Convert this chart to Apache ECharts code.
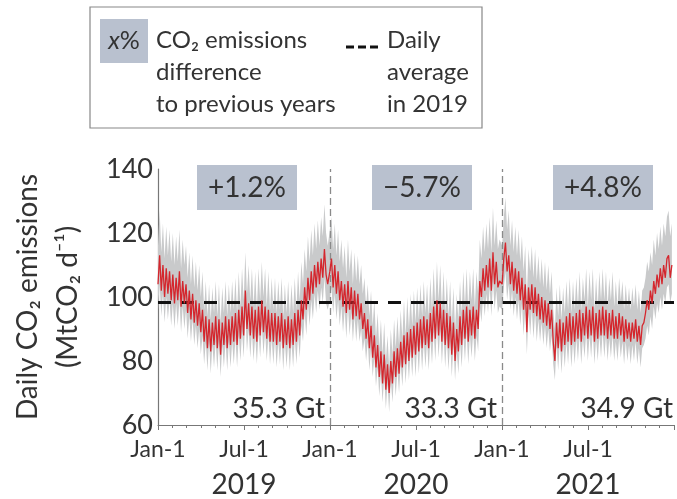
<!DOCTYPE html>
<html>
<head>
<meta charset="utf-8">
<script src="https://cdn.jsdelivr.net/npm/echarts@6/dist/echarts.min.js"></script>
<style>
  html, body { margin: 0; padding: 0; background: #fff; }
  #chart { width: 677px; height: 499px; }
</style>
</head>
<body>
<div id="chart"></div>
<script>
// Day offsets (from 2019-01-01) of each year's Jan-1, and sampling step in days
const yearStarts = [0, 365, 731];
const sampleStep = 3.5;

const tickLabels = ['Jan-1', 'Jul-1'];
const yearLabels = ['2019', '2020', '2021'];
const yearTotals = ['35.3 Gt', '33.3 Gt', '34.9 Gt'];
const yearChanges = ['+1.2%', '\u22125.7%', '+4.8%'];
const dailyAverage2019 = 98.5;

// Daily CO2 emissions (MtCO2 per day), sampled twice a week
const emissions2019 = [
  104,113,102,110,100,109,101,108,99,
  107,98,106,99,108,97,105,98,
  104,95,102,93,101,92,99,91,98,
  89,96,86,94,84,93,83,92,85,
  94,84,93,82,92,85,94,84,93,
  85,94,86,95,85,96,87,97,
  88,102,90,98,88,97,87,96,86,
  97,88,99,89,97,87,96,86,95,
  86,95,85,94,86,95,84,93,
  85,94,84,93,85,95,86,96,88,
  99,93,103,96,106,99,108,101,
  110,103,111,104,112,106,115,107,104
];
const emissions2020 = [
  108,112,103,110,101,108,99,105,97,
  104,95,105,96,103,93,102,94,
  101,93,98,90,95,87,93,84,91,
  81,88,78,85,75,83,73,82,71,
  79,70,80,73,83,75,84,76,86,
  78,88,79,89,80,90,81,91,
  82,92,83,93,84,94,85,93,84,
  95,86,97,87,99,88,98,86,96,
  85,95,84,94,82,92,80,90,
  83,94,85,96,87,97,86,96,88,
  97,87,96,90,105,100,109,102,
  110,103,112,102,114,104,111,103,105
];
const emissions2021 = [
  104,112,117,108,113,104,111,102,109,
  101,108,99,106,96,104,89,103,
  96,104,95,103,94,101,93,100,92,
  99,91,98,90,96,86,80,92,84,
  93,83,92,85,94,86,95,85,94,
  86,95,87,96,86,95,88,97,
  87,96,88,97,86,95,87,96,88,
  97,88,96,87,95,88,96,87,94,
  87,95,88,94,86,93,87,92,
  86,92,87,93,86,91,85,91,92,
  95,99,96,102,98,105,101,107,
  103,109,104,110,106,112,113,106,110
];

// Upper bound of the uncertainty range
const upper2019 = [
  116,127,114,123,112,122,113,121,111,
  120,110,119,111,121,109,118,110,
  116,106,114,104,113,103,111,102,110,
  100,108,96,105,94,104,93,103,95,
  105,94,104,92,103,95,105,94,104,
  95,105,96,106,95,108,97,109,
  99,114,101,110,99,109,97,108,96,
  109,99,111,100,109,97,108,96,106,
  96,106,95,105,96,106,94,104,
  95,105,94,104,95,106,96,108,99,
  111,104,115,108,119,111,121,113,
  123,115,124,116,125,119,129,120,116
];
const upper2020 = [
  121,125,115,123,113,121,111,118,109,
  116,106,118,108,115,104,114,105,
  113,104,110,101,106,97,104,94,102,
  91,99,87,95,84,93,82,92,80,
  88,78,90,82,93,84,94,85,96,
  87,99,88,100,90,101,91,102,
  92,103,93,104,94,105,95,104,94,
  106,96,109,97,111,99,110,96,108,
  95,106,94,105,92,103,90,101,
  93,105,95,108,97,109,96,108,99,
  109,97,108,101,118,112,122,114,
  123,115,125,114,128,116,124,115,118
];
const upper2021 = [
  116,125,131,121,127,116,124,114,122,
  113,121,111,119,108,116,100,115,
  108,116,106,115,105,113,104,112,103,
  111,102,110,101,108,96,90,103,94,
  104,93,103,95,105,96,106,95,105,
  96,106,97,108,96,106,99,109,
  97,108,99,109,96,106,97,108,99,
  109,99,108,97,106,99,108,97,105,
  97,106,99,105,96,104,97,103,
  96,103,97,104,96,102,95,102,103,
  106,111,108,114,110,118,113,120,
  115,122,116,123,119,125,127,119,123
];

// Lower bound of the uncertainty range
const lower2019 = [
  96,104,94,101,92,100,93,99,91,
  98,90,98,91,99,89,97,90,
  96,87,94,86,93,85,91,84,90,
  82,88,79,86,77,86,76,85,78,
  86,77,86,75,85,78,86,77,86,
  78,86,79,87,78,88,80,89,
  81,94,83,90,81,89,80,88,79,
  89,81,91,82,89,80,88,79,87,
  79,87,78,86,79,87,77,86,
  78,86,77,86,78,87,79,88,81,
  91,86,95,88,98,91,99,93,
  101,95,102,96,103,98,106,98,96
];
const lower2020 = [
  99,103,95,101,93,99,91,97,89,
  96,87,97,88,95,86,94,86,
  93,86,90,83,87,80,86,77,84,
  75,81,72,78,69,76,67,75,65,
  73,64,74,67,76,69,77,70,79,
  72,81,73,82,74,83,75,84,
  75,85,76,86,77,86,78,86,77,
  87,79,89,80,91,81,90,79,88,
  78,87,77,86,75,85,74,83,
  76,86,78,88,80,89,79,88,81,
  89,80,88,83,97,92,100,94,
  101,95,103,94,105,96,102,95,97
];
const lower2021 = [
  96,103,108,99,104,96,102,94,100,
  93,99,91,98,88,96,82,95,
  88,96,87,95,86,93,86,92,85,
  91,84,90,83,88,79,74,85,77,
  86,76,85,78,86,79,87,78,86,
  79,87,80,88,79,87,81,89,
  80,88,81,89,79,87,80,88,81,
  89,81,88,80,87,81,88,80,86,
  80,87,81,86,79,86,80,85,
  79,85,80,86,79,84,78,84,85,
  87,91,88,94,90,97,93,98,
  95,100,96,101,98,103,104,98,101
];

const FONT = 'Lato';
const TEXT = '#333';

const emis = [emissions2019, emissions2020, emissions2021];
const ups = [upper2019, upper2020, upper2021];
const lows = [lower2019, lower2020, lower2021];

// [day, emission, lower, upper] rows for the whole period
const rows = [];
yearStarts.forEach((s, y) => {
  emis[y].forEach((v, k) => rows.push([s + k * sampleStep, v, lows[y][k], ups[y][k]]));
});

const X_MAX = 1096;
const X_STEP = X_MAX / 6;

const chart = echarts.init(document.getElementById('chart'), null, { renderer: 'canvas' });

// Uncertainty band drawn as one polygon through the axis scales
function renderBand(params, api) {
  if (params.dataIndex !== 0) return null;
  const top = rows.map(r => api.coord([r[0], r[3]]));
  const bottom = rows.map(r => api.coord([r[0], r[2]])).reverse();
  return {
    type: 'polygon',
    shape: { points: top.concat(bottom) },
    style: { fill: '#c9cacb' },
    silent: true
  };
}

chart.setOption({
  animation: false,
  backgroundColor: '#fff',
  textStyle: { fontFamily: FONT },
  grid: { left: 158, right: 0, top: 169, bottom: 72 },
  dataset: { source: rows },
  xAxis: [{
    type: 'value', min: 0, max: X_MAX, interval: X_STEP, position: 'bottom',
    axisLine: { show: true, lineStyle: { color: '#777', width: 1.2 } },
    axisTick: { show: true, length: 5, lineStyle: { color: '#777' } },
    minorTick: { show: true, splitNumber: 6, length: 3, lineStyle: { color: '#777' } },
    splitLine: { show: false },
    axisLabel: {
      margin: 13, fontSize: 23, color: TEXT, fontFamily: FONT,
      formatter: (v, i) => (v > X_MAX - 10 ? '' : tickLabels[i % 2])
    }
  }, {
    type: 'value', min: 0, max: X_MAX, interval: X_STEP, position: 'bottom', offset: 0,
    axisLine: { show: false }, axisTick: { show: false }, splitLine: { show: false },
    axisLabel: {
      margin: 46, fontSize: 28, color: TEXT, fontFamily: FONT,
      formatter: (v, i) => (i % 2 === 1 ? yearLabels[(i - 1) / 2] : '')
    }
  }],
  yAxis: {
    type: 'value', min: 60, max: 140, interval: 20,
    axisLine: { show: true, lineStyle: { color: '#777', width: 1.2 } },
    axisTick: { show: false },
    splitLine: { show: false },
    axisLabel: { margin: 5, fontSize: 27, color: TEXT, fontFamily: FONT },
    name: 'Daily CO\u2082 emissions\n(MtCO\u2082 d\u207B\u00B9)',
    nameLocation: 'middle', nameRotate: 90, nameGap: 70,
    nameTextStyle: { fontSize: 28, lineHeight: 40, color: TEXT, fontFamily: FONT, align: 'center' }
  },
  series: [{
    name: 'range', type: 'custom', renderItem: renderBand,
    encode: { x: 0, y: [2, 3] }, clip: true, silent: true, z: 1
  }, {
    name: 'emissions', type: 'line',
    encode: { x: 0, y: 1 },
    showSymbol: false, symbol: 'none',
    lineStyle: { color: '#d4262d', width: 1.3 },
    markLine: {
      silent: true, symbol: 'none', label: { show: false },
      data: [
        { xAxis: yearStarts[1], lineStyle: { color: '#8a8a8a', width: 1.3, type: [7, 4] } },
        { xAxis: yearStarts[2], lineStyle: { color: '#8a8a8a', width: 1.3, type: [7, 4] } },
        { yAxis: dailyAverage2019, lineStyle: { color: '#111', width: 3.2, type: [13, 10] } }
      ]
    },
    z: 5
  }]
});

// Percentage change boxes and annual totals
const boxCenters = [247, 422, 603];
const totalRight = [325, 497, 673];
const graphics = [];
yearStarts.forEach((s, y) => {
  graphics.push({
    type: 'rect', shape: { x: boxCenters[y] - 50, y: 165, width: 100, height: 45 },
    style: { fill: '#b9c1cf' }, z: 10
  });
  graphics.push({
    type: 'text', x: boxCenters[y], y: 188, z: 11,
    style: { text: yearChanges[y], fontSize: 28, fontFamily: FONT, fill: TEXT, align: 'center', verticalAlign: 'middle' }
  });
  graphics.push({
    type: 'text', x: totalRight[y], y: 409, z: 11,
    style: { text: yearTotals[y], fontSize: 28, fontFamily: FONT, fill: TEXT, align: 'right', verticalAlign: 'middle' }
  });
});

// Legend box
graphics.push(
  { type: 'rect', shape: { x: 90, y: 7, width: 392, height: 121 }, style: { fill: 'none', stroke: '#888', lineWidth: 1.2 }, z: 10 },
  { type: 'rect', shape: { x: 100, y: 19, width: 48, height: 44 }, style: { fill: '#b9c1cf' }, z: 10 },
  { type: 'text', x: 124, y: 41, z: 11, style: {
      text: '{i|x}%', fontSize: 25, fontFamily: FONT, fill: TEXT, align: 'center', verticalAlign: 'middle',
      rich: { i: { fontStyle: 'italic', fontSize: 25, fontFamily: FONT, fill: TEXT } } } },
  { type: 'text', x: 156, y: 24, z: 11, style: {
      text: 'CO\u2082 emissions\ndifference\nto previous years', fontSize: 24, lineHeight: 32,
      fontFamily: FONT, fill: TEXT, align: 'left', verticalAlign: 'top' } },
  { type: 'line', shape: { x1: 346, y1: 47, x2: 379, y2: 47 }, style: { stroke: '#111', lineWidth: 3, lineDash: [8, 4] }, z: 11 },
  { type: 'text', x: 387, y: 24, z: 11, style: {
      text: 'Daily\naverage\nin 2019', fontSize: 24, lineHeight: 32,
      fontFamily: FONT, fill: TEXT, align: 'left', verticalAlign: 'top' } }
);

chart.setOption({ graphic: graphics });
</script>
</body>
</html>
